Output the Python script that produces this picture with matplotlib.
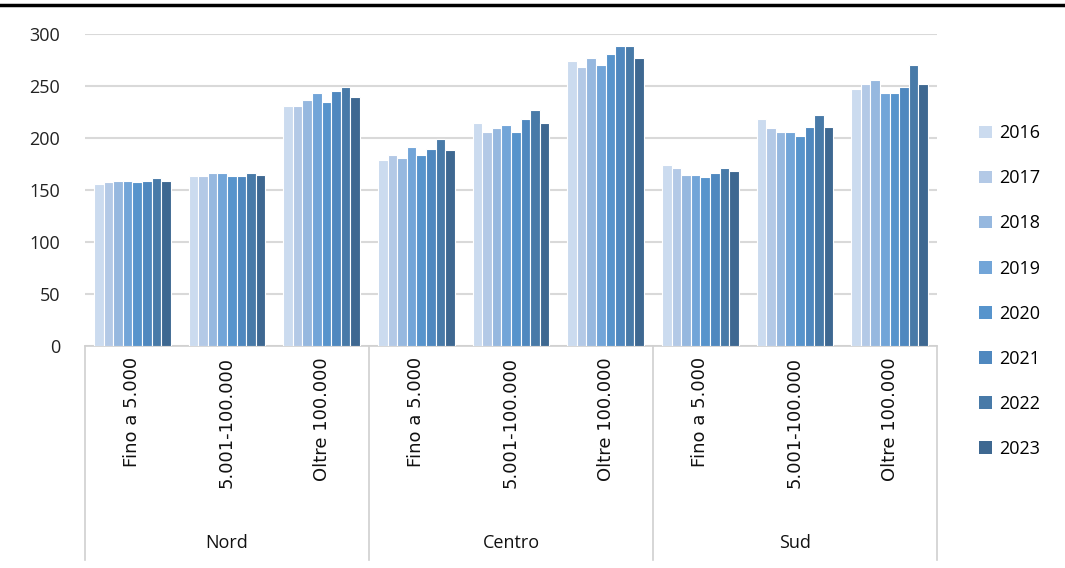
import matplotlib
matplotlib.use("Agg")
import matplotlib.pyplot as plt
import numpy as np
from matplotlib.lines import Line2D
from matplotlib.patches import Patch

years = ["2016", "2017", "2018", "2019", "2020", "2021", "2022", "2023"]
regions = ["Nord", "Centro", "Sud"]
classes = ["Fino a 5.000", "5.001-100.000", "Oltre 100.000"]

nord_fino = [155.6, 157.5, 159.1, 159.1, 157.5, 159.1, 161.1, 159.1]
nord_mid = [163.0, 163.0, 166.2, 166.2, 163.0, 163.0, 166.2, 164.6]
nord_oltre = [230.9, 230.9, 236.3, 243.7, 234.4, 245.3, 248.8, 239.8]
centro_fino = [178.7, 184.1, 180.6, 191.5, 184.1, 189.6, 198.8, 188.0]
centro_mid = [214.5, 205.6, 209.4, 212.9, 205.6, 218.4, 227.3, 214.5]
centro_oltre = [273.8, 268.3, 277.3, 270.3, 281.1, 288.2, 288.2, 277.3]
sud_fino = [173.6, 171.6, 164.6, 164.6, 162.7, 166.2, 171.6, 168.1]
sud_mid = [218.1, 209.4, 205.6, 205.6, 202.1, 211.0, 221.9, 211.0]
sud_oltre = [246.9, 252.3, 255.8, 243.7, 243.7, 248.8, 270.6, 252.3]

groups = [nord_fino, nord_mid, nord_oltre,
          centro_fino, centro_mid, centro_oltre,
          sud_fino, sud_mid, sud_oltre]
data = np.array(groups)  # shape (9, 8)

colors = ["#cbdbef", "#b3c9e6", "#96b8df", "#72a5d8", "#5794cc",
          "#4f88bf", "#487aa8", "#3e6891"]

fig = plt.figure(figsize=(10.65, 5.68), dpi=100)
W, H = 1065, 568
ax_left, ax_right, ax_top, ax_bot = 85, 937, 34, 346
ax = fig.add_axes([ax_left / W, 1 - ax_bot / H, (ax_right - ax_left) / W, (ax_bot - ax_top) / H])

n_cat = data.shape[0]
n_ser = data.shape[1]
x = np.arange(n_cat)
group_w = 0.81
bw = group_w / n_ser
for j in range(n_ser):
    ax.bar(x - group_w / 2 + bw * (j + 0.5), data[:, j], width=bw,
           color=colors[j], edgecolor="white", linewidth=0.8, zorder=3)

ax.set_xlim(-0.5, n_cat - 0.5)
ax.set_ylim(0, 300)
ax.set_yticks(np.arange(0, 301, 50))
ax.tick_params(axis="y", length=0, pad=18, labelsize=13, labelcolor="#222222")
ax.yaxis.grid(True, color="#d9d9d9", linewidth=1.5, zorder=0)
for lab in ax.get_yticklabels():
    lab.set_fontfamily("Open Sans")
for s in ["top", "right", "left"]:
    ax.spines[s].set_visible(False)
ax.spines["bottom"].set_color("#d0d0d0")
ax.spines["bottom"].set_linewidth(1.2)

ax.set_xticks(x)
ax.set_xticklabels(classes * 3, rotation=90, fontsize=13, family="DejaVu Sans",
                   va="top", ha="center", color="#111111")
ax.tick_params(axis="x", length=0, pad=8)

# group separators and labels
trans = ax.get_xaxis_transform()
sep_depth = (560 - ax_bot) / (ax_bot - ax_top)
for b in [-0.5, 2.5, 5.5, 8.5]:
    ax.plot([b, b], [0, -sep_depth], transform=trans, clip_on=False,
            color="#d0d0d0", linewidth=1.2)
lab_y = -(543 - ax_bot) / (ax_bot - ax_top)
for i, r in enumerate(regions):
    ax.text(3 * i + 1, lab_y, r, transform=trans, ha="center", va="center",
            fontsize=13, family="Open Sans", color="#111111")

# top black rule
fig.add_artist(Line2D([0, 1], [1 - 5 / H, 1 - 5 / H], transform=fig.transFigure,
                      color="black", linewidth=2.5))

handles = [Patch(facecolor=c, edgecolor="none") for c in colors]
leg = fig.legend(handles, years, loc="upper left", bbox_to_anchor=(963 / W, 1 - 108 / H),
                 frameon=False, prop={"family": "Open Sans", "size": 13},
                 handlelength=0.7, handleheight=0.7, handletextpad=0.4,
                 labelspacing=1.5)

fig.savefig("out.png", dpi=100)
